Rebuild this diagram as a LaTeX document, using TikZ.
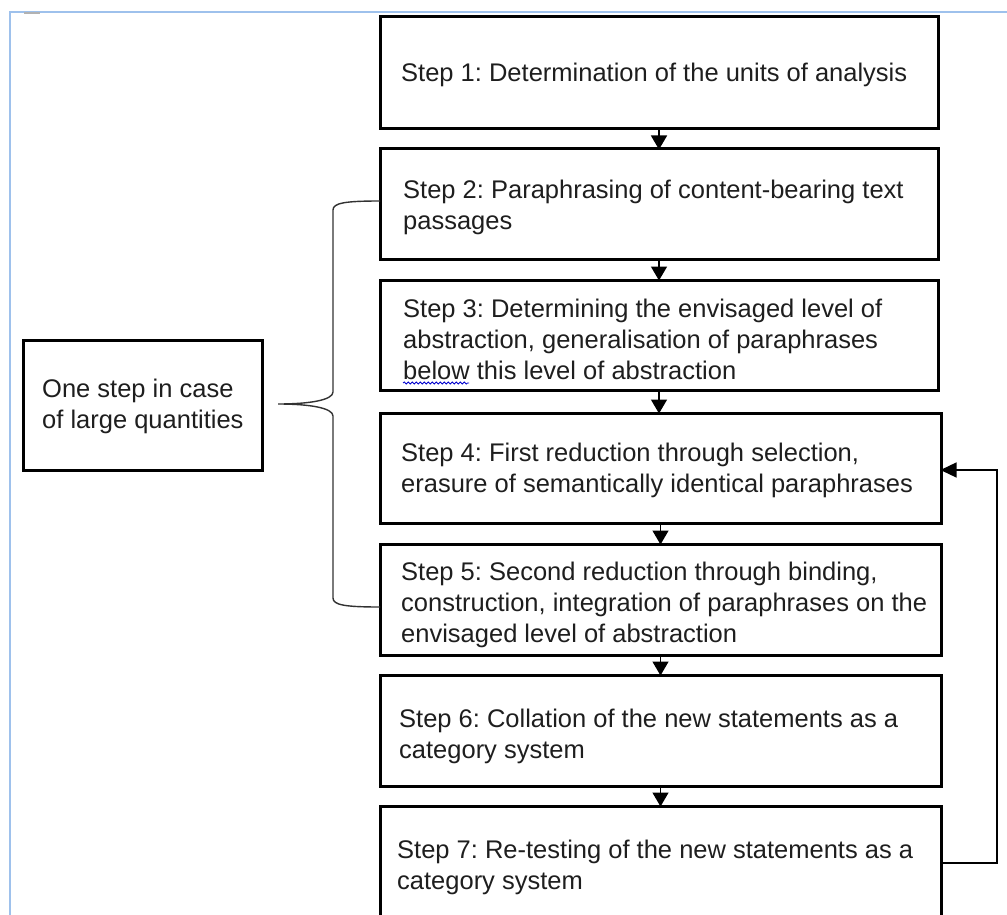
\documentclass[tikz,border=0pt]{standalone}
\usepackage{fontspec}
\setmainfont{Liberation Sans}
\usetikzlibrary{arrows.meta,decorations.pathmorphing,calc}
\definecolor{framec}{RGB}{158,193,236}
\definecolor{txtc}{RGB}{30,30,30}
\definecolor{bracec}{RGB}{50,50,50}
\frenchspacing
\begin{document}
\begin{tikzpicture}[x=1pt,y=-1pt,
  stepbox/.style={draw=black,line width=3pt,rectangle,inner sep=0pt},
  txt/.style={anchor=west,align=left,inner sep=0pt,font=\fontsize{25.5}{31}\selectfont\frenchspacing,text=txtc},
  down/.style={line width=1.5pt,-{Triangle[width=16pt,length=14pt]},shorten >=-2pt},
  fb/.style={line width=1.3pt,-{Triangle[width=15pt,length=16pt]},shorten >=-2pt},
  brc/.style={line width=1.4pt,draw=bracec}]
\useasboundingbox (0,0) rectangle (1007,915);
% page frame
\draw[framec,line width=2pt] (10,916) -- (10,12) -- (1008,12);
\draw[gray!60,line width=2pt] (24,13.5) -- (40,13.5);
% step boxes
\node[stepbox,minimum width=558pt,minimum height=112pt] (s1) at (659,73) {};
\node[stepbox,minimum width=558pt,minimum height=110pt] (s2) at (659,204) {};
\node[stepbox,minimum width=558pt,minimum height=110pt] (s3) at (659,335) {};
\node[stepbox,minimum width=561pt,minimum height=110pt] (s4) at (660.5,468) {};
\node[stepbox,minimum width=561pt,minimum height=111pt] (s5) at (660.5,599.5) {};
\node[stepbox,minimum width=561pt,minimum height=111pt] (s6) at (660.5,730.5) {};
\node[stepbox,minimum width=561pt,minimum height=114pt] (s7) at (660.5,863) {};
\node[stepbox,minimum width=239pt,minimum height=130pt] (L) at (142.5,405) {};
% texts
\node[txt] (t1) at (401,75) {Step 1: Determination of the units of analysis};
\node[txt] (t2) at (403,207.5) {Step 2: Paraphrasing of content-bearing text\\passages};
\node[txt] (t3) at (403,339) {Step 3: Determining the envisaged level of\\abstraction, generalisation of paraphrases\\below this level of abstraction};
\node[txt] (t4) at (401,470) {Step 4: First reduction through selection,\\erasure of semantically identical paraphrases};
\node[txt] (t5) at (401,605) {Step 5: Second reduction through binding,\\construction, integration of paraphrases on the\\envisaged level of abstraction};
\node[txt] (t6) at (399,736.5) {Step 6: Collation of the new statements as a\\category system};
\node[txt] (t7) at (397,867.5) {Step 7: Re-testing of the new statements as a\\category system};
\node[txt] (tl) at (42,406) {One step in case\\of large quantities};
% spell-check underline
\draw[blue!80!black,line width=0.8pt,decorate,decoration={snake,amplitude=1pt,segment length=4pt}] (403,383) -- (469,383);
% down arrows
\draw[down] (s1.south) -- (s2.north);
\draw[down] (s2.south) -- (s3.north);
\draw[down] (s3.south) -- (s3.south |- s4.north);
\draw[down] (s4.south) -- (s5.north);
\draw[down] (s5.south) -- (s6.north);
\draw[down] (s6.south) -- (s7.north);
% feedback
\coordinate (fbc) at (997,470);
\draw[fb] (s7.east) -| (fbc) -- (s4.east |- fbc);
% brace
\draw[brc] (380,201) .. controls (345,201) and (333,203) .. (333,210) -- (333,392)
  .. controls (333,400) and (310,404) .. (278,404)
  .. controls (310,404) and (333,408) .. (333,416) -- (333,598)
  .. controls (333,605) and (345,607) .. (380,607);
\end{tikzpicture}
\end{document}
